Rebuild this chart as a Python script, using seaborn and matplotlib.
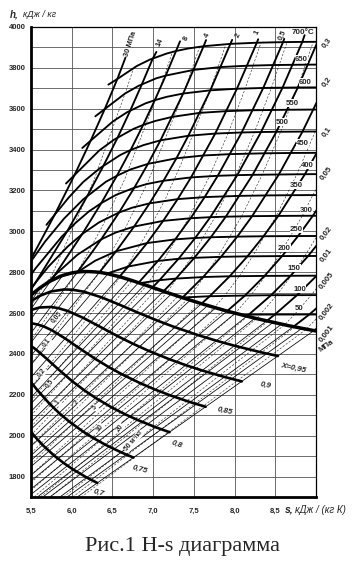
"""h-s (Mollier) diagram for water and steam, redrawn with seaborn."""
import matplotlib
matplotlib.use("Agg")
import matplotlib.pyplot as plt
import pandas as pd
import seaborn as sns

# ---------------------------------------------------------------------------
# Data: (s, h) points, s in kJ/(kg K), h in kJ/kg
# ---------------------------------------------------------------------------

SAT_LINE = [(5.4417, 2665.9), (5.5362, 2700.1), (5.6141, 2724.7), (5.7045, 2749.0),
            (5.7432, 2757.9), (5.8571, 2779.6), (5.8892, 2784.3), (6.0019, 2796.6),
            (6.0730, 2801.0), (6.1437, 2803.3), (6.2139, 2803.0), (6.2854, 2801.5),
            (6.3409, 2799.5), (6.4323, 2793.2), (6.5865, 2778.2), (6.7502, 2758.1),
            (6.9299, 2733.9), (7.1296, 2706.3), (7.3549, 2676.1), (7.6122, 2643.7),
            (7.9085, 2609.6), (8.2570, 2574.3), (8.6672, 2538.1), (8.9008, 2519.8),
            (9.0257, 2510.6)]

# dryness fraction lines
X095 = [(5.3926, 2625.2), (5.5013, 2658.8), (5.6164, 2685.8), (5.7461, 2705.9), (5.9064, 2715.7),
        (6.0098, 2714.3), (6.1462, 2705.0), (6.3641, 2677.3), (6.5733, 2643.3), (6.8473, 2596.5),
        (7.0566, 2562.6), (7.2688, 2530.6), (7.5548, 2491.8), (7.7752, 2465.0), (7.9979, 2440.3),
        (8.2996, 2410.5), (8.5315, 2390.0)]
X090 = [(5.3886, 2593.0), (5.4896, 2613.8), (5.6030, 2627.3), (5.7427, 2630.0), (5.8328, 2624.5),
        (5.9516, 2610.4), (6.1417, 2576.6), (6.3252, 2537.9), (6.5674, 2486.4), (6.7537, 2449.7),
        (6.9436, 2415.4), (7.2009, 2373.9), (7.4001, 2345.3), (7.6020, 2319.1), (7.8765, 2287.5),
        (8.0880, 2265.7)]
X085 = [(5.4598, 2548.8), (5.5280, 2548.6), (5.5790, 2544.3), (5.6557, 2534.7), (5.7569, 2515.9),
        (5.9193, 2475.8), (6.0772, 2432.4), (6.2876, 2376.3), (6.4509, 2336.8), (6.6185, 2300.1),
        (6.8471, 2256.0), (7.0251, 2225.7), (7.2062, 2197.9), (7.4534, 2164.5), (7.6446, 2141.5)]
X080 = [(5.4787, 2445.0), (5.5622, 2421.4), (5.6969, 2375.0), (5.8292, 2327.0), (6.0077, 2266.2),
        (6.1480, 2223.9), (6.2933, 2184.8), (6.4933, 2138.0), (6.6500, 2106.0), (6.8103, 2076.8),
        (7.0303, 2041.5), (7.2011, 2017.2)]
X075 = [(5.4746, 2274.3), (5.5812, 2221.6), (5.7279, 2156.1), (5.8452, 2111.0), (5.9682, 2069.6),
        (6.1395, 2020.1), (6.2750, 1986.4), (6.4144, 1955.6), (6.6072, 1918.5), (6.7577, 1893.0)]
X070 = [(5.4480, 2046.0), (5.4864, 2025.7), (5.5424, 1998.1), (5.6430, 1954.3), (5.7856, 1902.2),
        (5.8999, 1866.8), (6.0185, 1834.4), (6.1841, 1795.5), (6.3142, 1768.7)]

# isobars in the superheated region, MPa
P30 = [(5.4423, 2821.4), (5.7905, 3081.1), (6.0342, 3275.4), (6.2330, 3443.9), (6.4057, 3598.4),
       (6.5606, 3745.6), (6.66, 3850)]
P14 = [(5.3717, 2637.6), (5.550, 2746), (5.9453, 3001), (6.193, 3174), (6.391, 3322), (6.564, 3459),
       (6.719, 3591), (6.862, 3720), (6.996, 3846), (7.04, 3878)]
P8 = [(5.7432, 2757.9), (5.7906, 2785.0), (6.1301, 2987.3), (6.3634, 3138.3), (6.5551, 3272.0),
      (6.7240, 3398.3), (6.8778, 3521.0), (7.0206, 3642.0), (7.1544, 3762.2), (7.2812, 3882.4),
      (7.33, 3930)]
P4 = [(6.0701, 2801.4), (6.2285, 2886.2), (6.3615, 2960.7), (6.5821, 3092.5), (6.7690, 3213.6),
      (6.9363, 3330.3), (7.0901, 3445.3), (7.3688, 3674.4), (7.6198, 3905.9), (7.65, 3936)]
P2 = [(6.3409, 2799.5), (6.5453, 2902.5), (6.7664, 3023.5), (6.9563, 3137.0), (7.1271, 3247.6),
      (7.2859, 3357.5), (7.4317, 3467.6), (7.7024, 3690.1), (7.9487, 3917.4), (7.97, 3937)]
P1 = [(6.5865, 2778.1), (6.6940, 2827.9), (6.9247, 2942.6), (7.1229, 3051.2), (7.3011, 3157.7),
      (7.4651, 3263.9), (7.7622, 3478.5), (8.0290, 3697.9), (8.2731, 3923.1), (8.29, 3940)]
P05 = [(6.8213, 2748.7), (7.0592, 2855.4), (7.2709, 2960.7), (7.4599, 3064.2), (7.6329, 3167.7),
       (7.7938, 3271.9), (8.0873, 3483.9), (8.3522, 3701.7), (8.5952, 3925.9), (8.61, 3942)]
P03 = [(6.9919, 2725.3), (7.0778, 2761.0), (7.3115, 2865.6), (7.5166, 2967.6), (7.7022, 3069.3),
       (8.0330, 3275.0), (8.3251, 3486.0), (8.5892, 3703.2), (8.8319, 3927.1), (8.86, 3960)]
P02 = [(7.1271, 2706.7), (7.2795, 2768.8), (7.5066, 2870.5), (7.7086, 2971.0), (7.8926, 3071.8),
       (8.2218, 3276.6), (8.5133, 3487.1), (8.7770, 3704.0), (9.0194, 3927.6)]
P01 = [(7.3594, 2675.5), (7.6134, 2776.4), (7.8343, 2875.3), (8.0333, 2974.3), (8.2158, 3074.3),
       (8.5435, 3278.2), (8.8342, 3488.1), (9.0976, 3704.4)]
P005 = [(7.5939, 2645.9), (7.6947, 2682.5), (7.9401, 2780.1), (8.1580, 2877.7), (8.3556, 2976.0),
        (8.5373, 3075.5), (8.8642, 3279.6), (9.1546, 3489.1)]
P002 = [(7.9085, 2609.7), (8.128, 2686), (8.368, 2782), (8.584, 2879), (8.780, 2977),
        (8.961, 3076), (9.129, 3177)]
P001 = [(8.1502, 2584.7), (8.1749, 2592.6), (8.4479, 2687.5), (8.6882, 2783.0), (8.9038, 2879.5),
        (9.1002, 2977.3)]
P0005 = [(8.3938, 2561.5), (8.4948, 2593), (8.7678, 2688), (9.0081, 2783)]
P0002 = [(8.7227, 2533.5), (8.9177, 2593), (9.1907, 2688)]
P0001 = [(8.9749, 2514.2), (9.2376, 2593)]

# isotherms, deg C
T700 = [(6.45, 3718), (6.5606, 3745.6), (6.7993, 3809.1), (6.9572, 3840.1), (7.1692, 3870.5),
        (7.2812, 3882.4), (7.4234, 3894.3), (7.6198, 3905.9), (7.9487, 3917.4), (8.2731, 3923.1),
        (8.5952, 3925.9), (8.8319, 3927.1), (9.0194, 3927.6)]
T650 = [(6.29, 3563), (6.4057, 3598.4), (6.657, 3675), (6.8224, 3712.3), (7.039, 3749),
        (7.1544, 3762.2), (7.497, 3790), (7.8283, 3804), (8.1545, 3810.5), (8.4772, 3813.8),
        (8.7135, 3815), (9.0, 3816)]
T600 = [(6.13, 3408), (6.2330, 3443.9), (6.5048, 3537.6), (6.6776, 3582.3), (6.9029, 3625.8),
        (7.0206, 3642.0), (7.1680, 3658.4), (7.3688, 3674.4), (7.7024, 3690.1), (8.0290, 3697.9),
        (8.3522, 3701.7), (8.5892, 3703.2), (8.7770, 3704.0), (9.0, 3704.4)]
T550 = [(5.93, 3234), (6.0342, 3275.4), (6.339, 3396), (6.5199, 3448.6), (6.7561, 3500.9),
        (6.8778, 3521.0), (7.0307, 3540.6), (7.2314, 3559.9), (7.5718, 3579.8), (7.9012, 3588.2),
        (8.2254, 3592.5), (8.6509, 3595.0), (9.0, 3596)]
T500 = [(5.69, 3032), (5.7905, 3081.1), (5.9642, 3165.9), (6.1401, 3241.2), (6.3443, 3308.6),
        (6.5966, 3373.7), (6.7240, 3398.3), (6.8826, 3422.2), (7.0901, 3445.3), (7.4317, 3467.6),
        (7.7622, 3478.5), (8.0873, 3483.9), (8.3251, 3486.0), (8.5133, 3487.1), (8.8342, 3488.1),
        (9.0, 3488.6)]
T450 = [(5.4423, 2821.4), (5.6743, 2950.6), (5.9043, 3061.7), (6.1404, 3156.2), (6.4190, 3242.4),
        (6.5551, 3272.0), (6.7219, 3302.9), (6.9363, 3330.3), (7.2859, 3357.5), (7.6200, 3371.3),
        (7.9470, 3377.9), (8.3750, 3382.0), (8.6970, 3383.5), (9.0, 3384.2)]
T400 = [(5.1400, 2578.0), (5.5540, 2818.1), (5.8811, 2975.5), (6.0417, 3039.3), (6.2120, 3097.8),
        (6.3634, 3138.3), (6.5432, 3178.3), (6.7690, 3213.6), (6.9235, 3231.7), (7.1271, 3247.6),
        (7.4651, 3263.9), (7.7938, 3271.9), (8.0330, 3275.0), (8.2218, 3276.6), (8.5435, 3278.2),
        (8.8642, 3279.6), (9.0, 3280.0)]
T350 = [(5.4421, 2692.4), (5.7118, 2826.2), (5.9464, 2924.0), (6.1301, 2987.3), (6.3357, 3043.9),
        (6.5821, 3092.5), (6.7450, 3116.1), (6.9563, 3137.0), (7.3011, 3157.7), (7.6329, 3167.7),
        (7.8730, 3171.0), (8.0647, 3173.6), (8.3858, 3175.8), (8.7060, 3177.0), (9.0, 3177.5)]
T300 = [(5.7045, 2749.0), (5.7906, 2785.0), (6.0703, 2885.5), (6.3615, 2960.7), (6.5412, 2994.3),
        (6.7664, 3023.5), (7.1229, 3051.2), (7.4599, 3064.2), (7.7022, 3069.3), (7.8926, 3071.8),
        (8.2158, 3074.3), (8.5373, 3075.5), (8.77, 3076.0), (9.0, 3076.3)]
T250 = [(6.0730, 2801.0), (6.2893, 2856.5), (6.5453, 2902.5), (6.9247, 2942.6), (7.2709, 2960.7),
        (7.5166, 2967.6), (7.7086, 2971.0), (8.0333, 2974.3), (8.3556, 2976.0), (8.780, 2977.0),
        (9.0, 2977.3)]
T200 = [(6.4323, 2793.2), (6.6940, 2827.9), (7.0592, 2855.4), (7.3115, 2865.6), (7.5066, 2870.5),
        (7.8343, 2875.3), (8.1580, 2877.7), (8.584, 2879.0), (9.0, 2879.5)]
T150 = [(6.8379, 2746.4), (7.0778, 2761.0), (7.2795, 2768.8), (7.6134, 2776.4), (7.9401, 2780.1),
        (8.368, 2782.0), (9.0, 2783.0)]
T100 = [(7.3549, 2676.1), (7.6947, 2682.5), (8.128, 2686.0), (8.4479, 2687.5), (9.0, 2688.0)]
T50 = [(8.0763, 2591.3), (8.1749, 2592.6), (8.4948, 2593.0), (9.0, 2593.2)]

# isochores, m3/kg (dashed)
V002 = [(5.5, 2635), (5.66, 2737), (5.75, 2780), (6.04, 3039), (6.28, 3258), (6.68, 3702), (6.76, 3800)]
V005 = [(5.5, 2466), (5.707, 2588), (6.07, 2801), (6.377, 3025), (6.643, 3248), (7.08, 3697), (7.24, 3880)]
V01 = [(5.5, 2350), (5.91, 2568), (6.341, 2799.5), (6.665, 3021), (6.935, 3241), (7.39, 3695), (7.571, 3903)]
V02 = [(5.5, 2237), (6.102, 2530), (6.60, 2777), (6.90, 2975), (7.14, 3150), (7.32, 3308), (7.50, 3485),
       (7.70, 3690), (7.894, 3916)]
V05 = [(5.5, 2099), (6.061, 2347), (6.92, 2735), (7.13, 2860), (7.434, 3063.5), (7.692, 3270),
       (7.923, 3482), (8.132, 3700), (8.325, 3924)]
V1 = [(5.5, 2003), (5.67, 2073), (6.43, 2388), (7.17, 2700), (7.29, 2769), (7.466, 2870), (7.760, 3070),
      (8.017, 3275), (8.245, 3486), (8.453, 3703), (8.646, 3927)]
V2 = [(5.5, 1914), (5.820, 2039), (6.845, 2440), (7.42, 2667), (7.625, 2776), (7.794, 2875), (8.087, 3074),
      (8.340, 3278), (8.567, 3488), (8.774, 3704), (8.966, 3927)]
V5 = [(5.5, 1808), (7.469, 2523), (7.75, 2627), (7.877, 2684), (8.059, 2781), (8.224, 2879), (8.513, 3076),
      (8.765, 3279), (8.991, 3489)]
V10 = [(5.5, 1732), (5.765, 1824), (8.008, 2599), (8.197, 2686), (8.379, 2782), (8.543, 2879),
       (8.832, 3076), (8.961, 3177), (9.0, 3205)]
V20 = [(5.616, 1700), (6.094, 1857), (8.27, 2573), (8.517, 2687), (8.699, 2783), (8.863, 2880), (9.013, 2977)]
V50 = [(5.900, 1700), (6.573, 1909), (8.61, 2541), (8.733, 2592), (8.940, 2687), (9.015, 2725)]
V100 = [(6.119, 1700), (6.970, 1953), (8.88, 2521), (8.962, 2555), (9.008, 2574)]
# intermediate isochores drawn in the wet region only
V03 = [(5.5, 2170), (5.829, 2327), (6.745, 2759)]
V07 = [(5.5, 2043), (5.952, 2244), (7.045, 2718)]
V15 = [(5.5, 1951), (6.663, 2416), (7.30, 2681)]
V3 = [(5.5, 1860), (6.016, 2059), (7.113, 2475), (7.57, 2649)]
V7 = [(5.5, 1770), (5.822, 1884), (7.307, 2409), (7.87, 2614)]
V15B = [(5.536, 1700), (6.559, 2045), (8.16, 2584)]
V30 = [(5.734, 1700), (7.363, 2219), (8.41, 2560)]
V70 = [(6.012, 1700), (7.064, 2021), (8.74, 2532)]

# thin straight isobars inside the wet region: saturation point -> chart border
WET_P = [10, 8, 6, 4, 3, 2, 1.5, 1, 0.7, 0.5, 0.4, 0.3, 0.2, 0.15, 0.1, 0.075, 0.05, 0.04, 0.03,
         0.02, 0.015, 0.01, 0.0075, 0.005, 0.004, 0.003, 0.002, 0.0015, 0.001]
WET_SAT_S = [5.6141, 5.7432, 5.8892, 6.0701, 6.1869, 6.3409, 6.4448, 6.5865, 6.7080, 6.8213, 6.8959,
             6.9919, 7.1271, 7.2233, 7.3594, 7.4564, 7.5939, 7.6700, 7.7686, 7.9085, 8.0085, 8.1502,
             8.2501, 8.3938, 8.4734, 8.5765, 8.7227, 8.8270, 8.9749]
WET_SAT_H = [2724.7, 2757.9, 2784.3, 2801.4, 2804.2, 2799.5, 2792.2, 2778.1, 2763.5, 2748.7, 2738.6,
             2725.3, 2706.7, 2693.6, 2675.5, 2663.0, 2645.9, 2636.8, 2625.3, 2609.7, 2599.1, 2584.7,
             2574.8, 2561.5, 2554.4, 2545.5, 2533.5, 2525.3, 2514.2]
WET_END_S = [5.5, 5.5, 5.5, 5.5, 5.5, 5.5, 5.5, 5.5, 5.5, 5.5, 5.5, 5.5, 5.5, 5.5, 5.5, 5.5, 5.5, 5.5,
             5.5, 5.5, 5.5, 5.5, 5.5, 5.5787, 5.6453, 5.7319, 5.8550, 5.9428, 6.0683]
WET_END_H = [2658.0, 2619.7, 2570.7, 2502.9, 2456.0, 2391.2, 2346.8, 2285.9, 2234.2, 2187.1, 2156.8,
             2118.5, 2066.6, 2030.9, 1982.4, 1949.1, 1903.7, 1879.4, 1848.9, 1807.2, 1778.5, 1739.4,
             1712.8, 1700, 1700, 1700, 1700, 1700, 1700]

X_TICKS = [5.5, 6.0, 6.5, 7.0, 7.5, 8.0, 8.5, 9.0]
X_TICK_LABELS = ["5,5", "6,0", "6,5", "7,0", "7,5", "8,0", "8,5", ""]
Y_LABELLED = [1800, 2000, 2200, 2400, 2600, 2800, 3000, 3200, 3400, 3600, 3800, 4000]

ISOBARS = {"30": P30, "14": P14, "8": P8, "4": P4, "2": P2, "1": P1, "0.5": P05, "0.3": P03,
           "0.2": P02, "0.1": P01, "0.05": P005, "0.02": P002, "0.01": P001, "0.005": P0005,
           "0.002": P0002, "0.001": P0001}
ISOTHERMS = {700: T700, 650: T650, 600: T600, 550: T550, 500: T500, 450: T450, 400: T400,
             350: T350, 300: T300, 250: T250, 200: T200, 150: T150, 100: T100, 50: T50}
QUALITY = {0.95: X095, 0.9: X090, 0.85: X085, 0.8: X080, 0.75: X075, 0.7: X070}
ISOCHORES = {"0.02": V002, "0.05": V005, "0.1": V01, "0.2": V02, "0.5": V05, "1": V1, "2": V2,
             "5": V5, "10": V10, "20": V20, "50": V50, "100": V100, "0.3": V03, "0.7": V07,
             "1.5": V15, "3": V3, "7": V7, "15": V15B, "30": V30, "70": V70}


def to_frame(curves: dict) -> pd.DataFrame:
    rows = []
    for name, pts in curves.items():
        for i, (s, h) in enumerate(pts):
            rows.append({"curve": str(name), "i": i, "s": s, "h": h})
    return pd.DataFrame(rows)


def wet_frame() -> pd.DataFrame:
    rows = []
    for p, s0, h0, s1, h1 in zip(WET_P, WET_SAT_S, WET_SAT_H, WET_END_S, WET_END_H):
        rows.append({"curve": str(p), "s": s0, "h": h0})
        rows.append({"curve": str(p), "s": s1, "h": h1})
    return pd.DataFrame(rows)


def draw(ax, df, **kw):
    sns.lineplot(data=df, x="s", y="h", units="curve", estimator=None, sort=False,
                 color="black", legend=False, ax=ax, **kw)


# ---------------------------------------------------------------------------
# Figure
# ---------------------------------------------------------------------------

sns.set_style("white")
plt.rcParams["font.family"] = ["Liberation Sans", "DejaVu Sans"]

fig = plt.figure(figsize=(3.63, 5.66), dpi=100)
ax = fig.add_axes([0.0854, 0.1219, 0.7851, 0.8304])

draw(ax, to_frame(ISOCHORES), linewidth=0.45, linestyle=(0, (3.5, 2.5)), alpha=0.8, zorder=2)
draw(ax, wet_frame(), linewidth=0.55, zorder=2)
draw(ax, to_frame(ISOTHERMS), linewidth=1.35, zorder=3)
draw(ax, to_frame(ISOBARS), linewidth=1.35, zorder=3)
draw(ax, to_frame(QUALITY), linewidth=1.9, zorder=4)
draw(ax, to_frame({"x=1": SAT_LINE}), linewidth=2.5, zorder=4)

ax.set_xlim(5.5, 9.0)
ax.set_ylim(1700, 4000)
ax.set_xticks(X_TICKS)
ax.set_xticklabels(X_TICK_LABELS)
ax.set_yticks(range(1700, 4001, 100))
ax.set_yticklabels([str(v) if v in Y_LABELLED else "" for v in range(1700, 4001, 100)])
ax.tick_params(length=0, labelsize=5.5)
ax.tick_params(axis="x", pad=8)
ax.tick_params(axis="y", pad=4)
for lab in ax.get_xticklabels() + ax.get_yticklabels():
    lab.set_fontweight("bold")
ax.set_xlabel("")
ax.set_ylabel("")
ax.grid(True, color="#555555", linewidth=0.6)
ax.set_axisbelow(True)
for side, lw in [("left", 2.0), ("bottom", 2.0), ("top", 0.9), ("right", 0.9)]:
    ax.spines[side].set_linewidth(lw)
    ax.spines[side].set_color("black")

box = dict(facecolor="white", edgecolor="none", pad=0.3)


def label(x, y, text, rot=0, bg=True, style="normal", size=5.4):
    ax.text(x, y, text, rotation=rot, ha="center", va="center", fontsize=size,
            fontweight="bold", fontstyle=style, bbox=box if bg else None, zorder=6,
            clip_on=False)


# isobar labels at the top
for x, y, t, r in [(6.725, 3917, "30 МПа", 72), (7.08, 3926, "14", 65), (7.41, 3946, "8", 65),
                   (7.67, 3961, "4", 65), (8.04, 3961, "2", 65), (8.28, 3971, "1", 65),
                   (8.59, 3961, "0,5", 65)]:
    label(x, y, t, r, bg=False)
label(8.84, 3971, "700°C", 0, bg=False, size=5.8)

# isobar labels on the right, outside the frame
for y, t in [(3922, "0,3"), (3730, "0,2"), (3485, "0,1"), (3284, "0,05"), (2990, "0,02"),
             (2882, "0,01"), (2760, "0,005"), (2608, "0,002"), (2500, "0,001")]:
    label(9.13, y, t, 52, bg=False, size=5.7)
label(9.13, 2440, "МПа", 35, bg=False, size=5.7)

# isotherm labels
for x, y, t in [(8.821, 3843, "650"), (8.870, 3730, "600"), (8.711, 3627, "550"),
                (8.588, 3534, "500"), (8.833, 3431, "450"), (8.895, 3324, "400"),
                (8.760, 3225, "350"), (8.882, 3103, "300"), (8.760, 3010, "250"),
                (8.613, 2917, "200"), (8.735, 2819, "150"), (8.797, 2716, "100"),
                (8.797, 2623, "50")]:
    label(x, y, t, size=5.6)

# dryness fraction labels
for x, y, t, r in [(8.72, 2330, "X=0,95", -12), (8.38, 2245, "0,9", -10), (7.877, 2123, "0,85", -12),
                   (7.289, 1956, "0,8", -20), (6.836, 1833, "0,75", -15), (6.333, 1721, "0,7", -15)]:
    label(x, y, t, r, bg=False, style="italic", size=5.8)

# isochore labels in the wet region
for x, y, t in [(5.819, 2578, "0,05"), (5.696, 2456, "0,1"), (5.635, 2309, "0,2"),
                (5.733, 2255, "0,5"), (5.831, 2162, "1"), (6.064, 2162, "2"), (6.284, 2137, "5"),
                (6.346, 2039, "10"), (6.591, 2039, "20"), (6.76, 1975, "50 м³/кг")]:
    label(x, y, t, 50, size=4.9)

# axis titles
fig.text(0.027, 0.975, "h,", fontsize=7, fontweight="bold", fontstyle="italic", va="center")
fig.text(0.062, 0.975, "кДж / кг", fontsize=6.5, fontstyle="italic", va="center")
fig.text(0.785, 0.099, "s,", fontsize=7.5, fontweight="bold", fontstyle="italic", va="center")
fig.text(0.813, 0.099, "кДж / (кг К)", fontsize=7, fontstyle="italic", va="center")

fig.text(0.502, 0.035, "Рис.1 H-s диаграмма", ha="center", va="center", fontsize=16,
         family=["Liberation Serif", "DejaVu Serif"])

fig.savefig("out.png", dpi=100)
plt.close(fig)
